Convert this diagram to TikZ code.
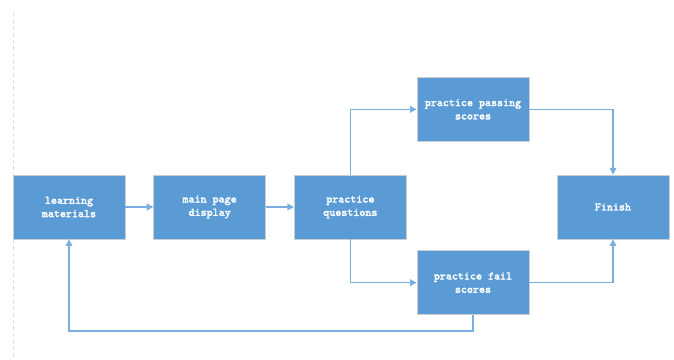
\documentclass[tikz,border=0pt]{standalone}
\usepackage{fontspec}
\setmonofont{Latin Modern Mono}[AutoFakeBold=2.2]
\usepackage{tikz}
\usetikzlibrary{arrows.meta,positioning}
\definecolor{boxblue}{HTML}{5B9BD5}
\definecolor{lineblue}{HTML}{7BAEE0}
\definecolor{edgegray}{HTML}{C9CED6}
\tikzset{flow box/.style={rectangle,fill=boxblue,draw=edgegray,line width=0.5pt,
minimum width=84pt,minimum height=48pt,inner sep=2pt,align=center,text=white,
font=\ttfamily\bfseries\fontsize{8.6}{10}\selectfont},
}

\begin{document}
\begin{tikzpicture}[-{Triangle[length=5pt,width=5pt]},line width=0.9pt,draw=lineblue]
\useasboundingbox (-51.75pt,155.25pt) rectangle (453.75pt,-114.75pt);
\draw[-,draw=gray!25,line width=0.6pt,dash pattern=on 3pt off 2pt] (-42pt,145.5pt) -- (-42pt,-114.75pt);

\node[flow box] (learn) {learning\\materials};
\node[flow box] (main) [right=21pt of learn] {main page\\display};
\node[flow box] (quest) [right=21pt of main] {practice\\questions};
\node[flow box] (pass) [above right=24.75pt and 7.5pt of quest] {practice passing\\scores};
\node[flow box] (fail) [below right=8.25pt and 7.5pt of quest] {practice fail\\scores};
\node[flow box] (finish) [right=112.5pt of quest] {Finish};
\coordinate (back) at ([yshift=-12pt]fail.south);

\draw (learn) -- (main);
\draw (main) -- (quest);
\draw (quest.north) |- (pass.west);
\draw (quest.south) |- (fail.west);
\draw (pass.east) -| (finish.north);
\draw (fail.east) -| (finish.south);
\draw (fail.south) -- (back) -| (learn.south);
\end{tikzpicture}
\end{document}
